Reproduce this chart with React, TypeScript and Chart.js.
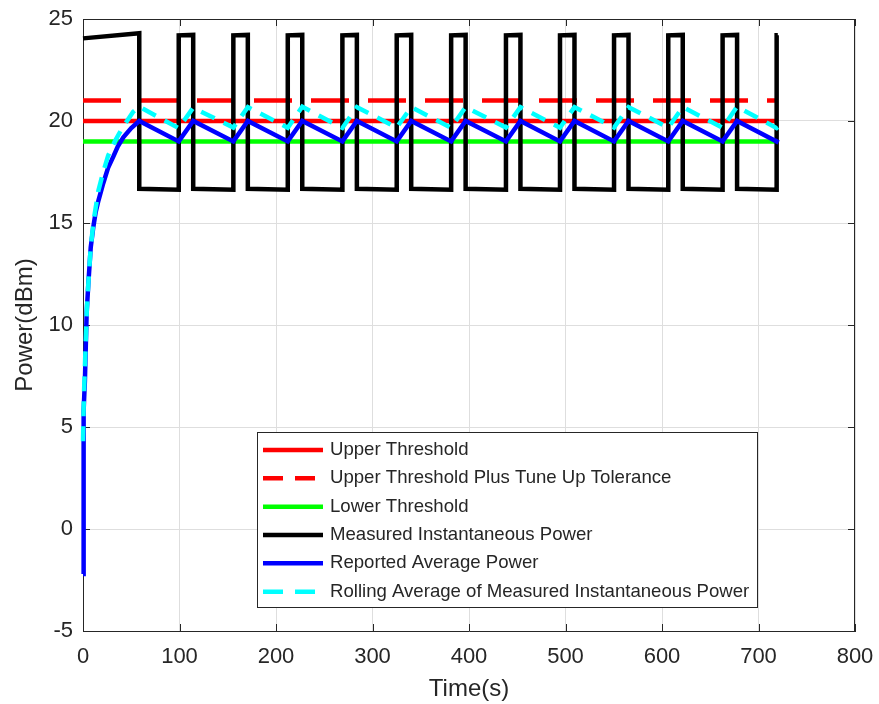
import React, { useEffect, useRef } from "react";
import { Chart, registerables } from "chart.js";

Chart.register(...registerables);

// ---------------- data ----------------
const legendLabels = [
  "Upper Threshold",
  "Upper Threshold Plus Tune Up Tolerance",
  "Lower Threshold",
  "Measured Instantaneous Power",
  "Reported Average Power",
  "Rolling Average of Measured Instantaneous Power",
];

const thresholdTime = [0, 720];
const upperThreshold = [20, 20];
const upperPlusTolerance = [21, 21];
const lowerThreshold = [19, 19];

const measuredTime = [
  0, 58.3, 58.3, 99.2, 99.2, 114.2, 114.2, 155.8, 155.8, 170.8, 170.8, 212.2,
  212.2, 227.2, 227.2, 268.8, 268.8, 283.8, 283.8, 325.1, 325.1, 340.1, 340.1,
  381.5, 381.5, 396.5, 396.5, 438.3, 438.3, 453.3, 453.3, 494.3, 494.3, 509.3,
  509.3, 550.3, 550.3, 565.3, 565.3, 606.5, 606.5, 621.5, 621.5, 662.8, 662.8,
  677.8, 677.8, 718.8, 718.8, 720,
];
const measuredPower = [
  24.05, 24.3, 16.68, 16.63, 24.2, 24.22, 16.68, 16.63, 24.2, 24.22, 16.68,
  16.63, 24.2, 24.22, 16.68, 16.63, 24.2, 24.22, 16.68, 16.63, 24.2, 24.22,
  16.68, 16.63, 24.2, 24.22, 16.68, 16.63, 24.2, 24.22, 16.68, 16.63, 24.2,
  24.22, 16.68, 16.63, 24.2, 24.22, 16.68, 16.63, 24.2, 24.22, 16.68, 16.63,
  24.2, 24.22, 16.68, 16.63, 24.2, 24.2,
];

const reportedTime = [
  0, 0.3, 1, 2, 3.8, 5.5, 8, 10.7, 13, 16, 21, 26, 31.4, 36, 41.8, 50, 58.3,
  99.2, 114.2, 155.8, 170.8, 212.2, 227.2, 268.8, 283.8, 325.1, 340.1, 381.5,
  396.5, 438.3, 453.3, 494.3, 509.3, 550.3, 565.3, 606.5, 621.5, 662.8, 677.8,
  718.8, 720,
];
const reportedPower = [
  -2.2, 4.0, 5.8, 7.3, 10.6, 12.0, 13.8, 14.8, 15.5, 16.1, 16.95, 17.7, 18.25,
  18.75, 19.2, 19.65, 20.0, 19.0, 20.0, 19.0, 20.0, 19.0, 20.0, 19.0, 20.0,
  19.0, 20.0, 19.0, 20.0, 19.0, 20.0, 19.0, 20.0, 19.0, 20.0, 19.0, 20.0, 19.0,
  20.0, 19.0, 19.1,
];

const rollingTime = [
  0, 0.5, 1, 2, 4, 6, 8, 11, 16, 21, 26, 33, 40, 47, 52, 58.3, 99.2, 114.2,
  155.8, 170.8, 212.2, 227.2, 268.8, 283.8, 325.1, 340.1, 381.5, 396.5, 438.3,
  453.3, 494.3, 509.3, 550.3, 565.3, 606.5, 621.5, 662.8, 677.8, 718.8, 720,
];
const rollingPower = [
  4.3, 5.6, 6.6, 8.0, 10.8, 12.4, 13.8, 15.1, 16.6, 17.5, 18.3, 19.0, 19.6,
  20.1, 20.45, 20.7, 19.65, 20.65, 19.68, 20.68, 19.67, 20.7, 19.66, 20.68,
  19.68, 20.68, 19.67, 20.68, 19.68, 20.68, 19.67, 20.68, 19.68, 20.68, 19.68,
  20.68, 19.67, 20.7, 19.65, 19.7,
];

const xMin = 0;
const xMax = 800;
const xStep = 100;
const yMin = -5;
const yMax = 25;
const yStep = 5;

// ---------------- styling ----------------
const FONT = "'Liberation Sans', Arial, Helvetica, sans-serif";
const AXIS = "#262626";
const GRID = "#dedede";
const LW = 4.5;

const colors = ["#ff0000", "#ff0000", "#00ff00", "#000000", "#0000ff", "#00ffff"];
const dashes: number[][] = [[], [38, 19], [], [], [], [15, 10]];
const legendDashes: number[][] = [[], [20, 12], [], [], [], [20, 12]];

const pts = (xs: number[], ys: number[]) => xs.map((x, i) => ({ x, y: ys[i] }));

const framePlugin = {
  id: "frame",
  beforeDatasetsDraw(chart: any) {
    const { ctx, chartArea: a, scales } = chart;
    const xs = scales.x;
    const ys = scales.y;
    ctx.save();
    ctx.strokeStyle = AXIS;
    ctx.lineWidth = 1;
    ctx.beginPath();
    ctx.moveTo(a.left, a.top + 0.5);
    ctx.lineTo(a.right, a.top + 0.5);
    ctx.moveTo(a.right - 0.5, a.top);
    ctx.lineTo(a.right - 0.5, a.bottom);
    const tl = 7;
    for (let v = xMin; v <= xMax; v += xStep) {
      const px = Math.round(xs.getPixelForValue(v)) + 0.5;
      ctx.moveTo(px, a.bottom);
      ctx.lineTo(px, a.bottom - tl);
      ctx.moveTo(px, a.top);
      ctx.lineTo(px, a.top + tl);
    }
    for (let v = yMin; v <= yMax; v += yStep) {
      const py = Math.round(ys.getPixelForValue(v)) + 0.5;
      ctx.moveTo(a.left, py);
      ctx.lineTo(a.left + tl, py);
      ctx.moveTo(a.right, py);
      ctx.lineTo(a.right - tl, py);
    }
    ctx.stroke();
    ctx.restore();
  },
  afterDraw(chart: any) {
    const { ctx } = chart;
    const bx = 257.5;
    const by = 432.5;
    const bw = 500;
    const bh = 175;
    ctx.save();
    ctx.fillStyle = "#ffffff";
    ctx.fillRect(bx, by, bw, bh);
    ctx.strokeStyle = AXIS;
    ctx.lineWidth = 1;
    ctx.strokeRect(bx, by, bw, bh);
    ctx.font = `18.6px ${FONT}`;
    ctx.textBaseline = "middle";
    ctx.textAlign = "left";
    legendLabels.forEach((label, i) => {
      const cy = 450 + i * 28.33;
      ctx.beginPath();
      ctx.strokeStyle = colors[i];
      ctx.lineWidth = LW;
      ctx.setLineDash(legendDashes[i]);
      ctx.moveTo(263, cy);
      ctx.lineTo(323, cy);
      ctx.stroke();
      ctx.setLineDash([]);
      ctx.fillStyle = AXIS;
      ctx.fillText(label, 330, cy);
    });
    ctx.restore();
  },
};

export default function App() {
  const ref = useRef<HTMLCanvasElement>(null);

  useEffect(() => {
    document.body.style.margin = "0";
    const canvas = ref.current;
    if (!canvas) return;

    const series = [
      pts(thresholdTime, upperThreshold),
      pts(thresholdTime, upperPlusTolerance),
      pts(thresholdTime, lowerThreshold),
      pts(measuredTime, measuredPower),
      pts(reportedTime, reportedPower),
      pts(rollingTime, rollingPower),
    ];

    const datasets = series.map((data, i) => ({
      label: legendLabels[i],
      data,
      showLine: true,
      borderColor: colors[i],
      backgroundColor: colors[i],
      borderWidth: LW,
      borderDash: dashes[i],
      pointRadius: 0,
      pointHoverRadius: 0,
      tension: 0,
      fill: false,
      clip: false as const,
      order: 5 - i,
      borderJoinStyle: "miter" as const,
    }));

    const tickFont = { family: FONT, size: 22 };
    const titleFont = { family: FONT, size: 24 };

    const chart = new Chart(canvas, {
      type: "scatter",
      data: { datasets },
      plugins: [framePlugin],
      options: {
        animation: false,
        responsive: false,
        devicePixelRatio: 1,
        layout: { padding: { top: 19, right: 24, left: 0, bottom: 0 } },
        plugins: {
          legend: { display: false },
          tooltip: { enabled: false },
        },
        scales: {
          x: {
            type: "linear",
            min: xMin,
            max: xMax,
            afterFit: (s: any) => {
              s.height = 73;
              s.paddingLeft = 0;
              s.paddingRight = 0;
            },
            ticks: {
              stepSize: xStep,
              font: tickFont,
              color: AXIS,
              padding: 12.6,
              maxRotation: 0,
            },
            grid: { color: GRID, lineWidth: 1, drawTicks: false },
            border: { display: true, color: AXIS, width: 1 },
            title: {
              display: true,
              text: "Time(s)",
              font: titleFont,
              color: AXIS,
              padding: { top: 0, bottom: 0 },
            },
          },
          y: {
            type: "linear",
            min: yMin,
            max: yMax,
            afterFit: (s: any) => {
              s.width = 83;
              s.paddingTop = 0;
              s.paddingBottom = 0;
            },
            ticks: {
              stepSize: yStep,
              font: tickFont,
              color: AXIS,
              padding: 10,
            },
            grid: { color: GRID, lineWidth: 1, drawTicks: false },
            border: { display: true, color: AXIS, width: 1 },
            title: {
              display: true,
              text: "Power(dBm)",
              font: titleFont,
              color: AXIS,
              padding: { top: 10.5, bottom: 0 },
            },
          },
        },
      },
    } as any);

    return () => chart.destroy();
  }, []);

  return (
    <div style={{ width: 879, height: 704 }}>
      <canvas ref={ref} width={879} height={704} style={{ display: "block" }} />
    </div>
  );
}
